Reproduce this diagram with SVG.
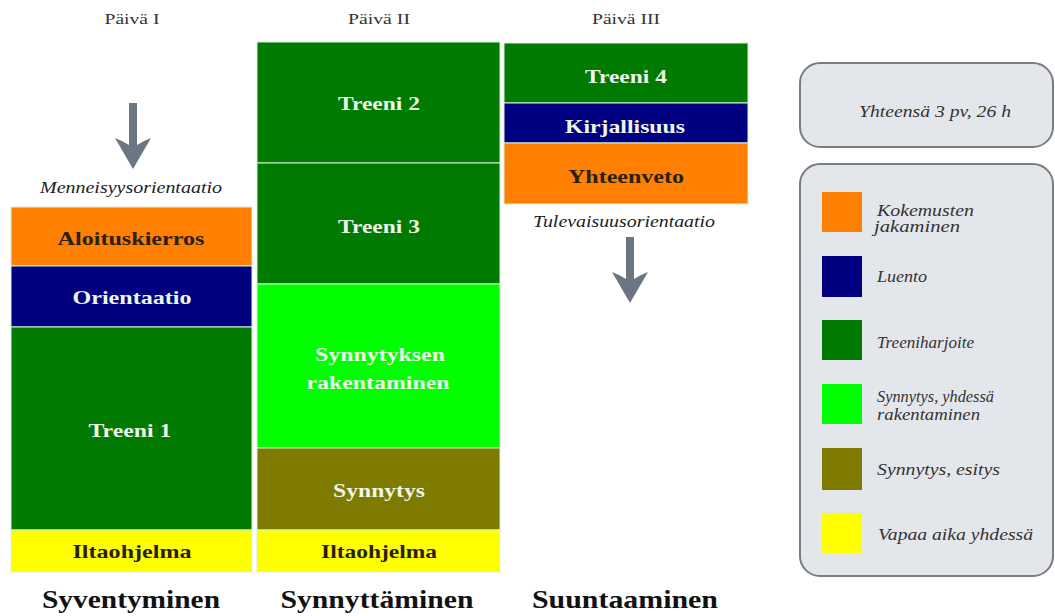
<svg xmlns="http://www.w3.org/2000/svg" xmlns:xlink="http://www.w3.org/1999/xlink" width="1055" height="616" viewBox="0 0 1055 616" font-family="'Liberation Serif', 'DejaVu Serif', serif">
<style>
.blk{stroke:#d8f2d8;stroke-width:1;}
.lab{font-weight:bold;font-size:19px;text-anchor:middle;}
.lt{fill:#eef6ea;}
.dk{fill:#2a1f10;}
.day{font-size:14px;fill:#333;text-anchor:middle;}
.ori{font-size:16px;font-style:italic;fill:#222;text-anchor:middle;}
.phase{font-size:25px;font-weight:bold;fill:#111;text-anchor:middle;}
.box{fill:#e3e6eb;stroke:#7c7c80;stroke-width:2;}
.leg{font-size:16px;font-style:italic;fill:#333;}
.arrow{fill:#6b7583;}
</style>
<defs>
<path id="arr" class="arrow" d="M-4,0 H4 V42 Q10,38 18,35 L0,66 L-18,35 Q-10,38 -4,42 Z"/>
</defs>
<rect width="1055" height="616" fill="#ffffff"/>

<g id="day-labels">
<text class="day" x="132" y="24" textLength="55" lengthAdjust="spacingAndGlyphs">Päivä I</text>
<text class="day" x="379" y="24" textLength="62" lengthAdjust="spacingAndGlyphs">Päivä II</text>
<text class="day" x="626" y="24" textLength="68" lengthAdjust="spacingAndGlyphs">Päivä III</text>
</g>

<g id="connectors">
<use xlink:href="#arr" href="#arr" transform="translate(133,103)"/>
<use xlink:href="#arr" href="#arr" transform="translate(630,237)"/>
</g>

<g id="orientation-labels">
<text class="ori" x="131" y="193" textLength="182" lengthAdjust="spacingAndGlyphs">Menneisyysorientaatio</text>
<text class="ori" x="624" y="227" textLength="182" lengthAdjust="spacingAndGlyphs">Tulevaisuusorientaatio</text>
</g>

<g id="day1">
<g id="aloituskierros">
<rect class="blk" x="11" y="207" width="241" height="59" fill="#ff8000"/>
<text class="lab dk" x="131" y="245" textLength="147" lengthAdjust="spacingAndGlyphs">Aloituskierros</text>
</g>
<g id="orientaatio">
<rect class="blk" x="11" y="266" width="241" height="61" fill="#000080"/>
<text class="lab lt" x="132" y="304" textLength="119" lengthAdjust="spacingAndGlyphs">Orientaatio</text>
</g>
<g id="treeni1">
<rect class="blk" x="11" y="327" width="241" height="203" fill="#007a00"/>
<text class="lab lt" x="130" y="437" textLength="83" lengthAdjust="spacingAndGlyphs">Treeni 1</text>
</g>
<g id="iltaohjelma1">
<rect class="blk" x="11" y="530" width="241" height="42" fill="#ffff00"/>
<text class="lab dk" x="132" y="558" textLength="119" lengthAdjust="spacingAndGlyphs">Iltaohjelma</text>
</g>
</g>

<g id="day2">
<g id="treeni2">
<rect class="blk" x="257" y="42" width="243" height="121" fill="#007a00"/>
<text class="lab lt" x="379" y="110" textLength="82" lengthAdjust="spacingAndGlyphs">Treeni 2</text>
</g>
<g id="treeni3">
<rect class="blk" x="257" y="163" width="243" height="121" fill="#007a00"/>
<text class="lab lt" x="379" y="233" textLength="82" lengthAdjust="spacingAndGlyphs">Treeni 3</text>
</g>
<g id="synnytyksen-rakentaminen">
<rect class="blk" x="257" y="284" width="243" height="164" fill="#00ff00"/>
<text class="lab lt" x="380" y="361" textLength="130" lengthAdjust="spacingAndGlyphs">Synnytyksen</text>
<text class="lab lt" x="378" y="389" textLength="143" lengthAdjust="spacingAndGlyphs">rakentaminen</text>
</g>
<g id="synnytys">
<rect class="blk" x="257" y="448" width="243" height="82" fill="#7f7a00"/>
<text class="lab lt" x="379" y="497" textLength="92" lengthAdjust="spacingAndGlyphs">Synnytys</text>
</g>
<g id="iltaohjelma2">
<rect class="blk" x="257" y="530" width="243" height="42" fill="#ffff00"/>
<text class="lab dk" x="379" y="558" textLength="116" lengthAdjust="spacingAndGlyphs">Iltaohjelma</text>
</g>
</g>

<g id="day3">
<g id="treeni4">
<rect class="blk" x="504" y="43" width="244" height="60" fill="#007a00"/>
<text class="lab lt" x="626" y="83" textLength="82" lengthAdjust="spacingAndGlyphs">Treeni 4</text>
</g>
<g id="kirjallisuus">
<rect class="blk" x="504" y="103" width="244" height="40" fill="#000080"/>
<text class="lab lt" x="625" y="133" textLength="120" lengthAdjust="spacingAndGlyphs">Kirjallisuus</text>
</g>
<g id="yhteenveto">
<rect class="blk" x="504" y="143" width="244" height="61" fill="#ff8000"/>
<text class="lab dk" x="626" y="183" textLength="116" lengthAdjust="spacingAndGlyphs">Yhteenveto</text>
</g>
</g>

<g id="phase-labels">
<text class="phase" x="131" y="608" textLength="178" lengthAdjust="spacingAndGlyphs">Syventyminen</text>
<text class="phase" x="377" y="608" textLength="193" lengthAdjust="spacingAndGlyphs">Synnyttäminen</text>
<text class="phase" x="625" y="608" textLength="186" lengthAdjust="spacingAndGlyphs">Suuntaaminen</text>
</g>

<g id="total-box">
<rect class="box" x="800" y="63" width="253" height="84" rx="20" ry="20"/>
<text class="leg" x="935" y="117" text-anchor="middle" textLength="152" lengthAdjust="spacingAndGlyphs">Yhteensä 3 pv, 26 h</text>
</g>

<g id="legend">
<rect class="box" x="800" y="164" width="253" height="412" rx="20" ry="20"/>
<rect x="822" y="192" width="40" height="40" fill="#ff8000"/>
<rect x="822" y="256" width="40" height="41" fill="#000080"/>
<rect x="822" y="320" width="40" height="40" fill="#007a00"/>
<rect x="822" y="384" width="40" height="40" fill="#00ff00"/>
<rect x="822" y="448" width="40" height="42" fill="#7f7a00"/>
<rect x="822" y="513" width="40" height="40" fill="#ffff00"/>
<text class="leg" x="877" y="216" textLength="97" lengthAdjust="spacingAndGlyphs">Kokemusten</text>
<text class="leg" x="874" y="232" textLength="86" lengthAdjust="spacingAndGlyphs">jakaminen</text>
<text class="leg" x="877" y="282" textLength="50" lengthAdjust="spacingAndGlyphs">Luento</text>
<text class="leg" x="877" y="348" textLength="97" lengthAdjust="spacingAndGlyphs">Treeniharjoite</text>
<text class="leg" x="877" y="402" textLength="117" lengthAdjust="spacingAndGlyphs">Synnytys, yhdessä</text>
<text class="leg" x="877" y="420" textLength="103" lengthAdjust="spacingAndGlyphs">rakentaminen</text>
<text class="leg" x="877" y="475" textLength="123" lengthAdjust="spacingAndGlyphs">Synnytys, esitys</text>
<text class="leg" x="878" y="540" textLength="155" lengthAdjust="spacingAndGlyphs">Vapaa aika yhdessä</text>
</g>
</svg>
